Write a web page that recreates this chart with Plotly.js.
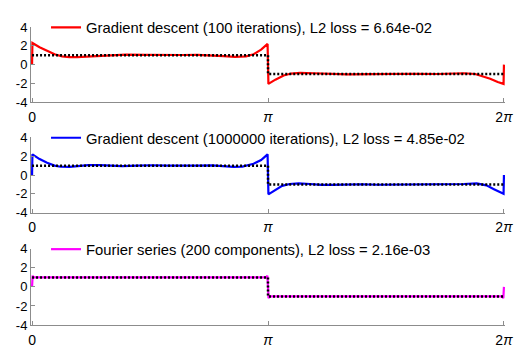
<!DOCTYPE html>
<html>
<head>
<meta charset="utf-8">
<script src="https://cdn.plot.ly/plotly-3.0.1.min.js"></script>
<style>html,body{margin:0;padding:0;background:#fff;}#chart{width:516px;height:349px;}</style>
</head>
<body>
<div id="chart"></div>
<script>
// ---- data (x in radians) ----
const targetX = [0, 3.1416, 3.1416, 6.2832];
const targetY = [1, 1, -1, -1];

const gd100X = [0, 0.005, 0.1, 0.2, 0.3, 0.4, 0.5, 0.6, 0.75, 0.9, 1.05, 1.25, 1.5, 1.75, 2.0, 2.2, 2.4, 2.55, 2.7, 2.85, 2.95, 3.05, 3.136,
                3.147, 3.24, 3.35, 3.45, 3.57, 3.75, 3.95, 4.2, 4.5, 4.8, 5.1, 5.4, 5.6, 5.75, 5.9, 6.0, 6.1, 6.2, 6.278, 6.2832];
const gd100Y = [0, 2.3, 1.85, 1.45, 1.1, 0.88, 0.8, 0.8, 0.86, 0.97, 1.04, 1.06, 1.03, 1.0, 1.02, 1.04, 1.0, 0.9, 0.82, 0.88, 1.1, 1.6, 2.2,
                -2.05, -1.6, -1.15, -0.95, -0.88, -0.92, -1.0, -1.04, -1.02, -0.98, -0.97, -1.0, -0.95, -0.92, -1.0, -1.25, -1.5, -1.85, -2.05, 0];

const gd1mX = [0, 0.005, 0.1, 0.2, 0.3, 0.38, 0.5, 0.62, 0.75, 0.9, 1.05, 1.2, 1.4, 1.6, 1.8, 2.0, 2.2, 2.4, 2.55, 2.68, 2.8, 2.95, 3.05, 3.136,
               3.147, 3.24, 3.33, 3.43, 3.55, 3.7, 3.85, 4.0, 4.2, 4.4, 4.6, 4.8, 5.0, 5.2, 5.4, 5.55, 5.75, 5.92, 6.05, 6.15, 6.278, 6.2832];
const gd1mY = [0, 2.2, 1.7, 1.3, 1.0, 0.88, 0.86, 0.95, 1.05, 1.05, 0.98, 0.95, 1.0, 1.04, 1.0, 0.97, 1.0, 1.03, 0.95, 0.86, 0.9, 1.2, 1.6, 2.2,
               -2.05, -1.6, -1.15, -0.95, -0.88, -0.95, -1.05, -1.04, -0.98, -0.98, -1.03, -1.02, -0.97, -0.98, -1.03, -1.0, -0.95, -0.88, -1.1, -1.5, -2.0, 0];

const fourierX = [0, 0.008, 0.02, 3.12, 3.134, 3.1416, 3.149, 3.163, 6.263, 6.275, 6.2832];
const fourierY = [0, 1.18, 1.0, 1.0, 1.18, 0, -1.18, -1.0, -1.0, -1.18, 0];

const legendNames = [
  'Gradient descent (100 iterations), L2 loss = 6.64e-02',
  'Gradient descent (1000000 iterations), L2 loss = 4.85e-02',
  'Fourier series (200 components), L2 loss = 2.16e-03'
];
const xTickVals = [0, 3.1416, 6.2832];
const xTickText = ['0', '<i>π</i>', '2<i>π</i>'];
const yTickVals = [-4, -2, 0, 2, 4];
const yTickText = ['-4', '-2', '0', '2', '4'];

// ---- styling ----
const colors = ['#ff0000', '#0000ff', '#ff00ff'];
const series = [[gd100X, gd100Y], [gd1mX, gd1mY], [fourierX, fourierY]];
const axSuffix = ['', '2', '3'];
const legendIds = ['legend', 'legend2', 'legend3'];

const traces = [];
series.forEach((s, i) => {
  traces.push({
    x: s[0], y: s[1], type: 'scatter', mode: 'lines',
    line: {color: colors[i], width: 2.2},
    name: legendNames[i], legend: legendIds[i],
    xaxis: 'x' + axSuffix[i], yaxis: 'y' + axSuffix[i]
  });
  traces.push({
    x: targetX, y: targetY, type: 'scatter', mode: 'lines',
    line: {color: '#000000', width: 2.5, dash: '2px,2px'},
    showlegend: false, hoverinfo: 'skip',
    xaxis: 'x' + axSuffix[i], yaxis: 'y' + axSuffix[i]
  });
});

const font = {family: 'Liberation Sans, Arial, Helvetica, sans-serif', color: '#000', size: 13};
const domains = [[0.7476, 1.0], [0.377, 0.6294], [0.0, 0.2556]];

const layout = {
  width: 516, height: 349,
  margin: {l: 31, r: 11, t: 12, b: 24, pad: 0},
  paper_bgcolor: '#fff', plot_bgcolor: '#fff',
  font: font,
  showlegend: true
};
domains.forEach((d, i) => {
  const xa = {
    domain: [0, 1], range: [-0.014, 6.2972], anchor: 'y' + axSuffix[i],
    tickvals: xTickVals, ticktext: xTickText,
    showline: true, linecolor: '#8c8c8c', linewidth: 1,
    ticks: 'inside', ticklen: 4, tickcolor: '#8c8c8c',
    showgrid: false, zeroline: false, tickfont: {size: 14},
    ticklabelstandoff: 2
  };
  const ya = {
    domain: d, range: [-4, 4], anchor: 'x' + axSuffix[i],
    tickvals: yTickVals, ticktext: yTickText,
    showline: true, linecolor: '#8c8c8c', linewidth: 1,
    ticks: 'inside', ticklen: 4, tickcolor: '#8c8c8c',
    showgrid: false, zeroline: false, tickfont: {size: 13}
  };
  layout['xaxis' + axSuffix[i]] = xa;
  layout['yaxis' + axSuffix[i]] = ya;
  layout[legendIds[i]] = {
    x: 0.0317, y: d[1] + 0.053, xanchor: 'left', yanchor: 'top',
    bgcolor: 'rgba(0,0,0,0)', borderwidth: 0,
    font: {size: 14.8, family: font.family, color: '#000'}
  };
});

Plotly.newPlot('chart', traces, layout, {staticPlot: true, displayModeBar: false});
</script>
</body>
</html>
